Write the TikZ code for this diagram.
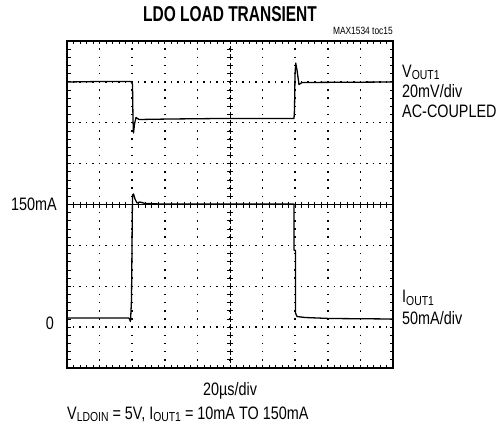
\documentclass[tikz,border=0pt]{standalone}
\usepackage{fontspec}
\setmainfont{Liberation Sans}[FakeStretch=0.8]
\newfontfamily\titlefont{Liberation Sans}[FakeStretch=0.72]
\usetikzlibrary{positioning, calc}
\newcommand{\lowsub}[1]{\raisebox{-2.5pt}{\fontsize{13}{13}\selectfont #1}}

\begin{document}
\begin{tikzpicture}[x=1pt, y=-1pt,
    lbl/.style={inner sep=0pt, font=\fontsize{18}{20}\selectfont},
    trace/.style={line width=1.3pt, line join=round},
    vdots/.style={line width=1.5pt, dash pattern=on 1.5pt off 6.675pt, dash phase=0.75pt},
    hdots/.style={line width=1.5pt, dash pattern=on 1.5pt off 5.02pt, dash phase=0.75pt},
    tick/.style={line width=0.8pt}]
    \useasboundingbox (0,0) rectangle (498,425);
    % graticule
    \foreach \i in {1,...,9}
        \draw[vdots] ({67+\i*32.6},41) -- ({67+\i*32.6},368);
    \foreach \j in {1,2,3,5,6,7}
        \draw[hdots] (67,{41+\j*40.875}) -- (393,{41+\j*40.875});
    \foreach \k in {1,...,49} {
        \draw[tick] ({67+\k*6.52},41) -- ++(0,3.5);
        \draw[tick] ({67+\k*6.52},368) -- ++(0,-3.5);
        \draw[tick] ({67+\k*6.52},201.5) -- ++(0,6);
    }
    \foreach \k in {1,...,39} {
        \draw[tick] (67,{41+\k*8.175}) -- ++(3.5,0);
        \draw[tick] (393,{41+\k*8.175}) -- ++(-3.5,0);
        \draw[tick] (227,{41+\k*8.175}) -- ++(6,0);
    }
    \draw[line width=1.5pt] (67,204.5) -- (393,204.5);
    \draw[line width=0.8pt, dash pattern=on 6pt off 2.175pt, dash phase=3pt] (230,41) -- (230,368);
    \draw[line width=2.5pt] (67,41) rectangle (393,368);
    % traces
    \draw[trace] (67,82) -- (100,81.5) -- (131,81.5) -- (132.5,84) -- (133,120) -- (133.5,133)
        -- (134.5,124) -- (136,117.5) -- (139,119.5) -- (170,119) -- (220,118.5) -- (294,118.5)
        -- (294.5,110) -- (295,75) -- (295.7,63) -- (297,70) -- (299,84.5) -- (302,82.5) -- (393,82);
    \draw[trace] (67,318) -- (129,318) -- (130.5,321.5) -- (131.5,300) -- (132.5,195) -- (133.5,194)
        -- (135,199) -- (137,203) -- (140,202) -- (145,203.5) -- (160,204) -- (294,204) -- (294,250)
        -- (295.5,250.5) -- (295.5,313) -- (297,316.5) -- (305,317.5) -- (330,318.5) -- (393,319);
    % labels
    \node[inner sep=0pt, font=\titlefont\bfseries\fontsize{21.5}{23}\selectfont] (title) at (230,14.5) {LDO LOAD TRANSIENT};
    \node[lbl, font=\fontsize{10.5}{11}\selectfont, anchor=base east] (toc) at (393,35) {MAX1534 toc15};
    \node[lbl, anchor=base west] (vout) at (402,77.5) {V\lowsub{OUT1}};
    \node[lbl, anchor=base west] (vdiv) at ([yshift=-20.5pt]vout.base west) {20mV/div};
    \node[lbl, anchor=base west] (acc) at ([yshift=-20pt]vdiv.base west) {AC-COUPLED};
    \node[lbl, anchor=base east] (imax) at (57,210) {150mA};
    \node[lbl, anchor=base east] (izero) at (54,329.5) {0};
    \node[lbl, anchor=base west] (iout) at (402,302.5) {I\lowsub{OUT1}};
    \node[lbl, anchor=base west] (idiv) at ([yshift=-21.5pt]iout.base west) {50mA/div};
    \node[lbl, anchor=base] (tdiv) at (230,395.5) {20µs/div};
    \node[lbl, anchor=base west] (cond) at (67,419) {V\lowsub{LDOIN} = 5V, I\lowsub{OUT1} = 10mA TO 150mA};
\end{tikzpicture}
\end{document}
